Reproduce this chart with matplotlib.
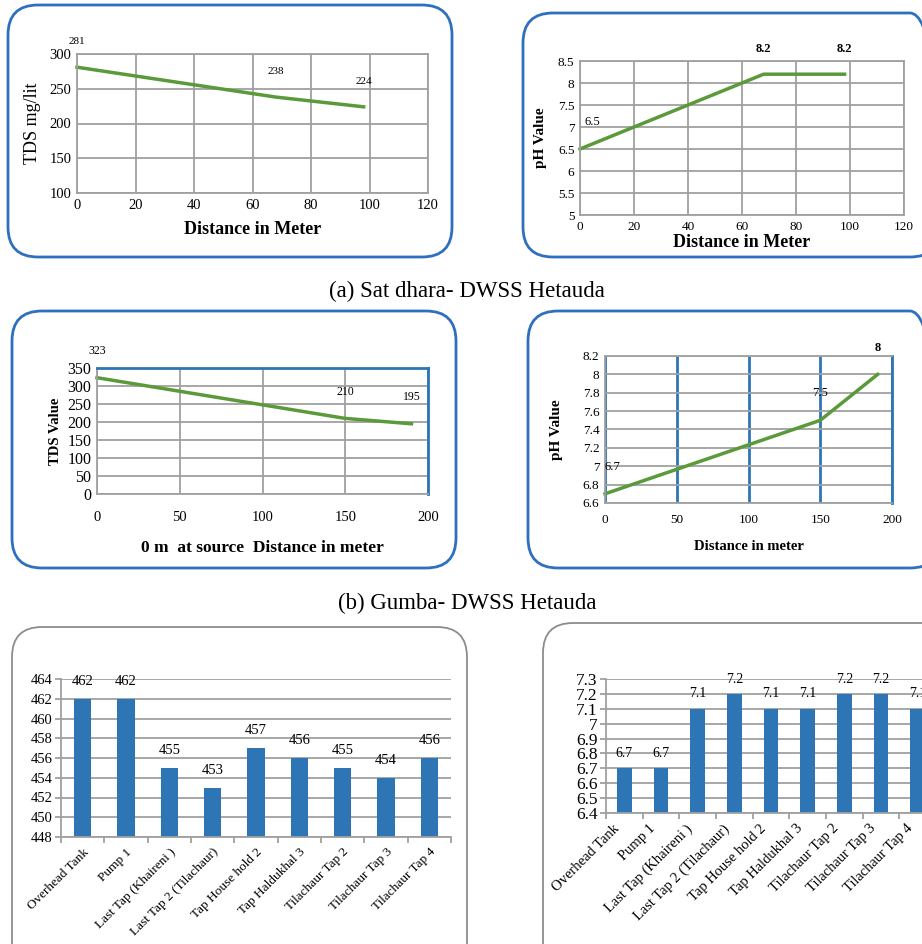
import matplotlib
matplotlib.use("Agg")
import matplotlib.pyplot as plt
from matplotlib.patches import FancyBboxPatch
from matplotlib.ticker import FuncFormatter, MultipleLocator
from matplotlib.transforms import ScaledTranslation
import numpy as np

# ---------------- data ----------------
sat_tds_dist = [0, 68, 98]
sat_tds_val = [281, 238, 224]
sat_ph_dist = [0, 68, 98]
sat_ph_val = [6.5, 8.2, 8.2]

gumba_tds_dist = [0, 150, 190]
gumba_tds_val = [323, 210, 195]
gumba_ph_dist = [0, 150, 190]
gumba_ph_val = [6.7, 7.5, 8.0]

sites = ["Overhead Tank", "Pump 1", "Last Tap (Khaireni )", "Last Tap 2 (Tilachaur)",
         "Tap House hold 2", "Tap Haldukhal 3", "Tilachaur Tap 2", "Tilachaur Tap 3",
         "Tilachaur Tap 4"]
site_tds = [462, 462, 455, 453, 457, 456, 455, 454, 456]
site_ph = [6.7, 6.7, 7.1, 7.2, 7.1, 7.1, 7.2, 7.2, 7.1]

caption_a = "(a) Sat dhara- DWSS Hetauda"
caption_b = "(b) Gumba- DWSS Hetauda"

# ---------------- style ----------------
W, H = 922, 944
SERIF = ["Liberation Serif", "DejaVu Serif"]
plt.rcParams["font.family"] = SERIF
GREEN = "#5A9A3A"
BLUE = "#2E75B6"
GRID = "#A0A0A0"
BOXBLUE = "#2F6FC0"

fig = plt.figure(figsize=(W / 100, H / 100), dpi=100)
fig.patch.set_facecolor("white")


def ax_px(x0, x1, y0, y1):
    return fig.add_axes([x0 / W, 1 - y1 / H, (x1 - x0) / W, (y1 - y0) / H])


def box_px(x0, x1, y0, y1, color, lw=2.0, r=0.3):
    p = FancyBboxPatch((x0 / 100, (H - y1) / 100), (x1 - x0) / 100, (y1 - y0) / 100,
                       boxstyle=f"round,pad=0,rounding_size={r}",
                       transform=fig.dpi_scale_trans, fill=False,
                       edgecolor=color, linewidth=lw, zorder=-1)
    fig.add_artist(p)


def style_line_ax(ax, xlim, xstep, ylim, ystep, fs=9.5):
    ax.set_xlim(*xlim)
    ax.set_ylim(*ylim)
    ax.xaxis.set_major_locator(MultipleLocator(xstep))
    ax.yaxis.set_major_locator(MultipleLocator(ystep))
    ax.yaxis.set_major_formatter(FuncFormatter(lambda v, p: f"{v:g}"))
    ax.grid(True, color=GRID, lw=1.3)
    ax.set_axisbelow(True)
    for s in ax.spines.values():
        s.set_color(GRID)
        s.set_linewidth(1.3)
    ax.tick_params(length=0, labelsize=fs, pad=4)


# ---------------- panel 1: Sat dhara TDS ----------------
box_px(8, 452, 5, 257, BOXBLUE)
ax1 = ax_px(77, 428, 54, 193)
style_line_ax(ax1, (0, 120), 20, (100, 300), 50, fs=10.5)
ax1.plot(sat_tds_dist, sat_tds_val, color=GREEN, lw=2.5, clip_on=False)
for x, y in zip(sat_tds_dist, sat_tds_val):
    ax1.annotate(f"{y}", (x, y), xytext=(0, 15), textcoords="offset points",
                 ha="center", va="bottom", fontsize=8, annotation_clip=False)
ax1.set_ylabel("TDS mg/lit", fontsize=13, labelpad=6)
ax1.set_xlabel("Distance in Meter", fontsize=13, fontweight="bold", labelpad=7)

# ---------------- panel 2: Sat dhara pH ----------------
box_px(523, 940, 13, 257, BOXBLUE)
ax2 = ax_px(580, 904, 61, 215)
style_line_ax(ax2, (0, 120), 20, (5, 8.5), 0.5, fs=9.5)
ax2.plot(sat_ph_dist, sat_ph_val, color=GREEN, lw=2.5, clip_on=False)
for i, (x, y) in enumerate(zip(sat_ph_dist, sat_ph_val)):
    if i == 0:
        ax2.annotate(f"{y:g}", (x, y), xytext=(9, 15), textcoords="offset points",
                     ha="center", va="bottom", fontsize=9, annotation_clip=False)
    else:
        ax2.annotate(f"{y:g}", (x, y), xytext=(0, 14), textcoords="offset points",
                     ha="center", va="bottom", fontsize=9, fontweight="bold",
                     annotation_clip=False)
ax2.set_ylabel("pH Value", fontsize=11, fontweight="bold", labelpad=8)
ax2.set_xlabel("Distance in Meter", fontsize=13, fontweight="bold", labelpad=1)

fig.text(467 / W, 1 - 291 / H, caption_a, ha="center", va="center",
         fontsize=16.5, family=SERIF)

# ---------------- panel 3: Gumba TDS ----------------
box_px(12, 456, 311, 568, BOXBLUE)
ax3 = ax_px(97, 428, 368, 494)
style_line_ax(ax3, (0, 200), 50, (0, 350), 50, fs=11.5)
ax3.spines["top"].set_color(BLUE)
ax3.spines["right"].set_color(BLUE)
ax3.spines["top"].set_linewidth(2)
ax3.spines["right"].set_linewidth(2)
ax3.tick_params(axis="x", pad=12, labelsize=10.5)
ax3.plot(gumba_tds_dist, gumba_tds_val, color=GREEN, lw=2.5, clip_on=False)
for x, y in zip(gumba_tds_dist, gumba_tds_val):
    ax3.annotate(f"{y}", (x, y), xytext=(0, 15), textcoords="offset points",
                 ha="center", va="bottom", fontsize=8.5, annotation_clip=False)
ax3.set_ylabel("TDS Value", fontsize=10.5, fontweight="bold", labelpad=4)
ax3.set_xlabel("0 m  at source  Distance in meter", fontsize=12.5, fontweight="bold",
               labelpad=12)

# ---------------- panel 4: Gumba pH ----------------
box_px(528, 940, 311, 568, BOXBLUE)
ax4 = ax_px(605, 892, 356, 503)
style_line_ax(ax4, (0, 200), 50, (6.6, 8.2), 0.2, fs=9.5)
ax4.grid(True, axis="x", color=BLUE, lw=2)
ax4.spines["right"].set_color(BLUE)
ax4.spines["right"].set_linewidth(2)
ax4.tick_params(axis="x", pad=8)
ax4.plot(gumba_ph_dist, gumba_ph_val, color=GREEN, lw=2.5, clip_on=False)
for i, (x, y) in enumerate(zip(gumba_ph_dist, gumba_ph_val)):
    dx = 5 if i == 0 else 0
    ax4.annotate(f"{y:g}", (x, y), xytext=(dx, 15), textcoords="offset points",
                 ha="center", va="bottom", fontsize=9,
                 fontweight="bold" if i == 2 else "normal", annotation_clip=False)
ax4.set_ylabel("pH Value", fontsize=11, fontweight="bold", labelpad=14)
ax4.set_xlabel("Distance in meter", fontsize=10.5, fontweight="bold", labelpad=10)

fig.text(467 / W, 1 - 603 / H, caption_b, ha="center", va="center",
         fontsize=16.5, family=SERIF)


# ---------------- bar panels ----------------
def style_bar_ax(ax, ylim, ystep, fs, xfs, xpad_px, shift_px=0):
    ax.set_ylim(*ylim)
    ax.set_xlim(-0.5, len(sites) - 0.5)
    ax.yaxis.set_major_locator(MultipleLocator(ystep))
    ax.yaxis.set_major_formatter(FuncFormatter(lambda v, p: f"{v:g}"))
    ax.grid(True, axis="y", color=GRID, lw=1.3)
    ax.set_axisbelow(True)
    for s in ("top", "right"):
        ax.spines[s].set_visible(False)
    for s in ("left", "bottom"):
        ax.spines[s].set_color(GRID)
        ax.spines[s].set_linewidth(1.3)
    ax.set_xticks([])
    off = ScaledTranslation(shift_px / 100, -xpad_px / 100, fig.dpi_scale_trans)
    tr = ax.get_xaxis_transform() + off
    for i, name in enumerate(sites):
        ax.text(i, 0, name, transform=tr, rotation=45, ha="right", va="top",
                rotation_mode="anchor", fontsize=xfs, clip_on=False)
    ax.set_xticks(np.arange(len(sites) + 1) - 0.5, minor=True)
    ax.tick_params(axis="x", which="minor", length=4, color=GRID, width=1.3)
    ax.tick_params(axis="y", length=4, color=GRID, width=1.3, labelsize=fs, pad=2)


box_px(12, 467, 627, 990, "#8C8C8C", lw=1.3)
ax5 = ax_px(61, 451, 679, 837)
style_bar_ax(ax5, (448, 464), 2, 10.5, 9.5, 9)
ax5.bar(np.arange(len(sites)), site_tds, width=0.4, color=BLUE, zorder=2)
for x, y in zip(np.arange(len(sites)), site_tds):
    ax5.annotate(f"{y}", (x, y), xytext=(0, 8), textcoords="offset points",
                 ha="center", va="bottom", fontsize=10.5, annotation_clip=False)

box_px(543, 960, 623, 990, "#8C8C8C", lw=1.3)
ax6 = ax_px(606, 936, 679, 813)
style_bar_ax(ax6, (6.4, 7.3), 0.1, 12.5, 10.5, 9, shift_px=-12)
ax6.bar(np.arange(len(sites)), site_ph, width=0.4, color=BLUE, zorder=2)
for x, y in zip(np.arange(len(sites)), site_ph):
    ax6.annotate(f"{y:g}", (x, y), xytext=(0, 6), textcoords="offset points",
                 ha="center", va="bottom", fontsize=10, annotation_clip=False)

fig.savefig("out.png", dpi=100, facecolor="white")
